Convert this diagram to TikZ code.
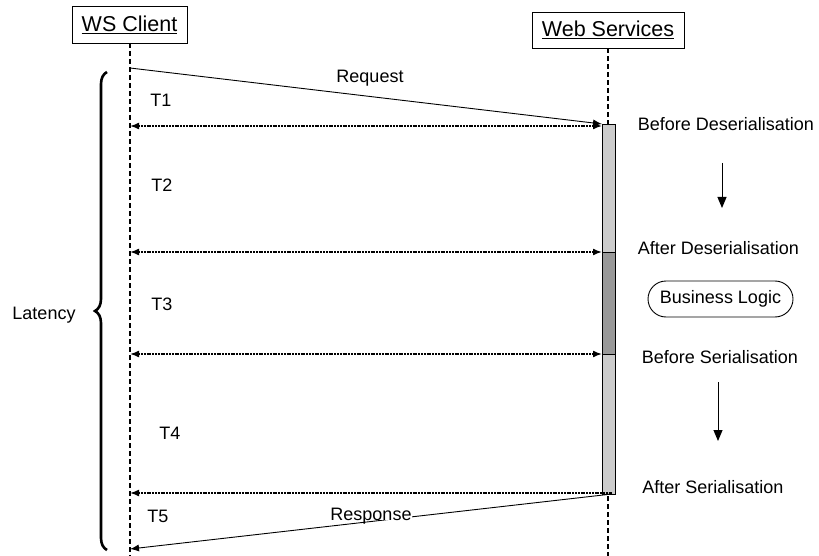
\documentclass[tikz,border=0pt]{standalone}
\usepackage{fontspec}
\setmainfont{Liberation Sans}
\usetikzlibrary{arrows.meta,decorations.pathreplacing}
\definecolor{barlight}{HTML}{CCCCCC}
\definecolor{bardark}{HTML}{999999}
\tikzset{mytip/.tip={Latex[length=9pt,width=7pt]}}
\begin{document}
\begin{tikzpicture}[x=1pt,y=-1pt,
  lbl/.style={font=\fontsize{18}{21}\selectfont, inner sep=0pt, anchor=base},
  hdr/.style={draw, line width=0.9pt, inner sep=0pt, font=\fontsize{21.5}{24}\selectfont},
  life/.style={line width=1.1pt, dash pattern=on 5pt off 3pt},
  msg/.style={line width=0.9pt},
  tarrow/.style={line width=1.6pt, dash pattern=on 2pt off 0.8pt},
  down/.style={line width=1pt, -{Triangle[length=11pt,width=9pt]}},
  bar/.style={draw, line width=0.9pt, inner sep=0pt, minimum width=13pt}
]
\useasboundingbox[fill=white] (0,0) rectangle (819,556);

% headers
\node[hdr, minimum width=115pt, minimum height=37pt] (client) at (129.5,24.5) {\underline{WS Client}};
\node[hdr, minimum width=152pt, minimum height=36pt] (ws) at (608,30) {\underline{Web Services}};

% lifelines
\coordinate (cEnd) at (130,556);
\coordinate (wEnd) at (608,556);
\draw[life] (130,43) -- (cEnd);
\draw[life] (ws.south) -- (wEnd);

% activation bar
\node[bar, fill=barlight, minimum height=370pt] (act) at (608.5,309) {};
\node[bar, fill=bardark, minimum height=102pt] (biz) at (608.5,303) {};

% points on lifelines
\coordinate (c0) at (130,68);
\coordinate (c1) at (130,126);
\coordinate (c2) at (130,252);
\coordinate (c3) at (130,354);
\coordinate (c4) at (130,493);
\coordinate (c5) at (130,549);
\coordinate (s0) at (602,124);
\coordinate (s1) at (602,126);
\coordinate (s2) at (602,252);
\coordinate (s3) at (602,354);
\coordinate (s4) at (612,493);
\coordinate (s5) at (612,494);

% request / response
\draw[msg, -{mytip}] (c0) -- (s0);
\node[lbl] (req) at (370,83) {Request};
\draw[msg, -{mytip}] (s5) -- (c5);
\node[lbl, fill=white, text depth=0pt] (resp) at (371,520) {Response};

% timing arrows
\draw[tarrow, {mytip}-{mytip}] (c1) -- (s1);
\draw[tarrow, {mytip}-{mytip}] (c2) -- (s2);
\draw[tarrow, {mytip}-{mytip}] (c3) -- (s3);
\draw[tarrow, {mytip}-] (c4) -- (s4);

% T labels
\node[lbl] (t1) at (161,107) {T1};
\node[lbl] (t2) at (162,192) {T2};
\node[lbl] (t3) at (162,310) {T3};
\node[lbl] (t4) at (170,439) {T4};
\node[lbl] (t5) at (158,522) {T5};

% brace
\coordinate (bBot) at (107,550);
\coordinate (bTop) at (107,72);
\draw[line width=2.6pt, decorate, decoration={brace, amplitude=12pt}] (bBot) -- (bTop);
\node[lbl] (lat) at (44,319) {Latency};

% right side stages
\node[lbl] (bdes) at (726,131) {Before Deserialisation};
\node[lbl] (ades) at (718.5,254) {After Deserialisation};
\node[draw, line width=0.9pt, rounded corners=18pt, minimum width=145pt, minimum height=36pt, inner sep=0pt, font=\fontsize{18}{21}\selectfont] (bl) at (720.5,299) {Business Logic};
\node[lbl] (bser) at (720,363) {Before Serialisation};
\node[lbl] (aser) at (713,493) {After Serialisation};

\coordinate (d1a) at (722,163);
\coordinate (d1b) at (722,208);
\coordinate (d2a) at (718,382);
\coordinate (d2b) at (718,441);
\draw[down] (d1a) -- (d1b);
\draw[down] (d2a) -- (d2b);
\end{tikzpicture}
\end{document}
